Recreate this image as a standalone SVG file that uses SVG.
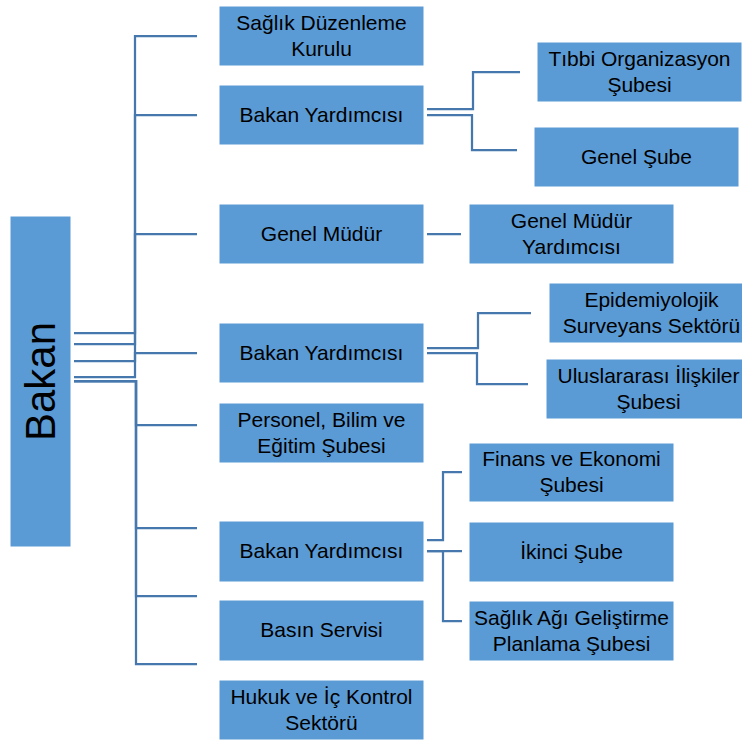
<svg xmlns="http://www.w3.org/2000/svg" width="742" height="740" viewBox="0 0 742 740">
<style>
.box{fill:#5B9BD5;stroke:#ffffff;stroke-width:1}
.t{font-family:"Liberation Sans",Arial,sans-serif;font-size:21px;fill:#000;text-anchor:middle}
.c{fill:none;stroke:#4677AD;stroke-width:2.25}
</style>
<rect width="742" height="740" fill="#ffffff"/>
<g id="connectors">
<path class="c" d="M74,333 H135 V36 H197"/>
<path class="c" d="M74,344 H135 V115 H197"/>
<path class="c" d="M74,361 H135 V234 H197"/>
<path class="c" d="M74,377 H135 V353 H197"/>
<path class="c" d="M74,381 H136 V425 H197"/>
<path class="c" d="M74,381 H136 V528 H197"/>
<path class="c" d="M74,381 H136 V596 H197"/>
<path class="c" d="M74,381 H136 V664 H197"/>
<path class="c" d="M427,109 H473 V72 H520"/>
<path class="c" d="M427,115 H472 V150 H517"/>
<path class="c" d="M427,234 H461"/>
<path class="c" d="M427,348 H478 V313 H531"/>
<path class="c" d="M427,353 H477 V384 H528"/>
<path class="c" d="M427,540 H443 V472 H462"/>
<path class="c" d="M427,551 H462"/>
<path class="c" d="M427,551 H443 V621 H462"/>
</g>
<g id="bakan">
<rect class="box" x="10" y="216" width="61" height="331"/>
<text transform="translate(55,381.5) rotate(-90)" font-family="Liberation Sans,Arial,sans-serif" font-size="42" text-anchor="middle" fill="#000">Bakan</text>
</g>
<g id="saglik-duzenleme">
<rect class="box" x="219" y="6" width="205" height="60"/>
<text class="t" x="321.5" y="30">Sağlık Düzenleme</text>
<text class="t" x="321.5" y="56">Kurulu</text>
</g>
<g id="bakan-yardimcisi-1">
<rect class="box" x="219" y="85" width="205" height="60"/>
<text class="t" x="321.5" y="122">Bakan Yardımcısı</text>
</g>
<g id="genel-mudur">
<rect class="box" x="219" y="204" width="205" height="60"/>
<text class="t" x="321.5" y="241">Genel Müdür</text>
</g>
<g id="bakan-yardimcisi-2">
<rect class="box" x="219" y="323" width="205" height="60"/>
<text class="t" x="321.5" y="360">Bakan Yardımcısı</text>
</g>
<g id="personel">
<rect class="box" x="219" y="403" width="205" height="60"/>
<text class="t" x="321.5" y="427">Personel, Bilim ve</text>
<text class="t" x="321.5" y="453">Eğitim Şubesi</text>
</g>
<g id="bakan-yardimcisi-3">
<rect class="box" x="219" y="521" width="205" height="61"/>
<text class="t" x="321.5" y="558">Bakan Yardımcısı</text>
</g>
<g id="basin-servisi">
<rect class="box" x="219" y="600" width="205" height="61"/>
<text class="t" x="321.5" y="637">Basın Servisi</text>
</g>
<g id="hukuk">
<rect class="box" x="219" y="680" width="205" height="60"/>
<text class="t" x="321.5" y="704">Hukuk ve İç Kontrol</text>
<text class="t" x="321.5" y="730">Sektörü</text>
</g>
<g id="tibbi-organizasyon">
<rect class="box" x="537" y="42" width="205" height="60"/>
<text class="t" x="639.5" y="66">Tıbbi Organizasyon</text>
<text class="t" x="639.5" y="92">Şubesi</text>
</g>
<g id="genel-sube">
<rect class="box" x="534" y="127" width="205" height="60"/>
<text class="t" x="636.5" y="164">Genel Şube</text>
</g>
<g id="genel-mudur-yardimcisi">
<rect class="box" x="469" y="204" width="205" height="60"/>
<text class="t" x="571.5" y="228">Genel Müdür</text>
<text class="t" x="571.5" y="254">Yardımcısı</text>
</g>
<g id="epidemiyolojik">
<rect class="box" x="549" y="283" width="205" height="60"/>
<text class="t" x="651.5" y="307">Epidemiyolojik</text>
<text class="t" x="651.5" y="333">Surveyans Sektörü</text>
</g>
<g id="uluslararasi">
<rect class="box" x="546" y="359" width="205" height="60"/>
<text class="t" x="648.5" y="383">Uluslararası İlişkiler</text>
<text class="t" x="648.5" y="409">Şubesi</text>
</g>
<g id="finans">
<rect class="box" x="469" y="443" width="205" height="59"/>
<text class="t" x="571.5" y="466">Finans ve Ekonomi</text>
<text class="t" x="571.5" y="492">Şubesi</text>
</g>
<g id="ikinci-sube">
<rect class="box" x="469" y="522" width="205" height="60"/>
<text class="t" x="571.5" y="559">İkinci Şube</text>
</g>
<g id="saglik-agi">
<rect class="box" x="469" y="601" width="205" height="60"/>
<text class="t" x="571.5" y="625">Sağlık Ağı Geliştirme</text>
<text class="t" x="571.5" y="651">Planlama Şubesi</text>
</g>
</svg>
